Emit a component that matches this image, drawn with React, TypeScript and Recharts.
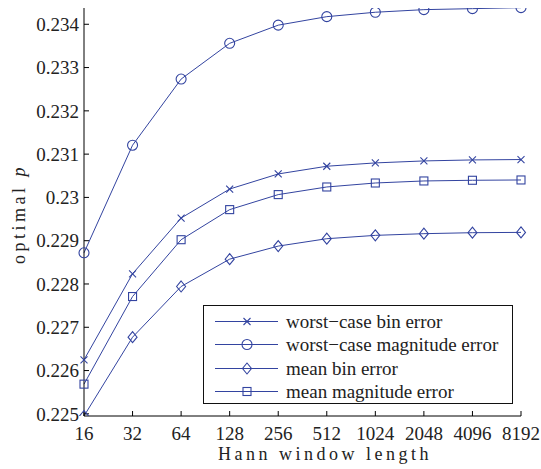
import React from 'react';
import { LineChart, Line, XAxis, YAxis } from 'recharts';

const windowLengths = ['16', '32', '64', '128', '256', '512', '1024', '2048', '4096', '8192'];
const worstCaseBin = [0.226247, 0.228236, 0.229523, 0.230194, 0.230542, 0.23072, 0.230797, 0.230843, 0.230866, 0.230875];
const worstCaseMagnitude = [0.22872, 0.231206, 0.232734, 0.23356, 0.23398, 0.234176, 0.234278, 0.234338, 0.234361, 0.234384];
const meanBin = [0.22495, 0.226771, 0.227942, 0.228574, 0.228875, 0.229046, 0.229123, 0.229162, 0.229185, 0.229192];
const meanMagnitude = [0.225686, 0.22771, 0.229023, 0.229718, 0.230065, 0.230241, 0.230333, 0.23038, 0.230396, 0.230403];
const yTicks = [0.225, 0.226, 0.227, 0.228, 0.229, 0.23, 0.231, 0.232, 0.233, 0.234];
const seriesNames = ['worst\u2212case bin error', 'worst\u2212case magnitude error', 'mean bin error', 'mean magnitude error'];
const seriesKeys = ['wcb', 'wcm', 'mb', 'mm'];
const seriesMarkers = ['x', 'circle', 'diamond', 'square'];
const xLabel = 'Hann window length';

const data = windowLengths.map((n, i) => ({
  n,
  wcb: worstCaseBin[i],
  wcm: worstCaseMagnitude[i],
  mb: meanBin[i],
  mm: meanMagnitude[i],
}));

const BLUE = '#3344a0';
const FONT = "'Liberation Serif', 'DejaVu Serif', serif";

function Marker({ kind, cx, cy }: { kind: string; cx: number; cy: number }) {
  if (cx == null || cy == null) return null;
  if (kind === 'x') {
    const s = 3.5;
    return (
      <g stroke={BLUE} strokeWidth={1.1}>
        <line x1={cx - s} y1={cy - s} x2={cx + s} y2={cy + s} />
        <line x1={cx - s} y1={cy + s} x2={cx + s} y2={cy - s} />
      </g>
    );
  }
  if (kind === 'circle') {
    return <circle cx={cx} cy={cy} r={5} fill="none" stroke={BLUE} strokeWidth={1.1} />;
  }
  if (kind === 'diamond') {
    return (
      <polygon
        points={`${cx},${cy - 5.5} ${cx + 4.5},${cy} ${cx},${cy + 5.5} ${cx - 4.5},${cy}`}
        fill="none"
        stroke={BLUE}
        strokeWidth={1.1}
      />
    );
  }
  return <rect x={cx - 4} y={cy - 4} width={8} height={8} fill="none" stroke={BLUE} strokeWidth={1.1} />;
}

const makeDot = (kind: string) => (props: any) => (
  <Marker key={`${kind}-${props.index}`} kind={kind} cx={props.cx} cy={props.cy} />
);

const fmtY = (v: number) => String(Number(v.toFixed(3)));

export default function App() {
  return (
    <div style={{ position: 'absolute', left: 0, top: 0, width: 541, height: 469, background: '#fff', fontFamily: FONT }}>
      <LineChart
        width={541}
        height={469}
        data={data}
        margin={{ top: 8, right: 20, bottom: 0, left: 0 }}
        style={{ fontFamily: FONT }}
      >
        <XAxis
          dataKey="n"
          xAxisId="bottom"
          orientation="bottom"
          height={53}
          tickSize={-5}
          tickMargin={16}
          axisLine={{ stroke: '#000', strokeWidth: 1 }}
          tickLine={{ stroke: '#000' }}
          tick={{ fill: '#222', fontSize: 19, fontFamily: FONT }}
          interval={0}
        />
        <XAxis
          dataKey="n"
          xAxisId="top"
          orientation="top"
          height={0}
          tickSize={-5}
          tickFormatter={() => ''}
          axisLine={{ stroke: '#000', strokeWidth: 1 }}
          tickLine={{ stroke: '#000' }}
          interval={0}
        />
        <YAxis
          yAxisId="left"
          orientation="left"
          width={84}
          domain={[0.22495, 0.234376]}
          ticks={yTicks}
          tickSize={-5}
          tickMargin={10}
          tickFormatter={fmtY}
          allowDataOverflow
          axisLine={{ stroke: '#000', strokeWidth: 1 }}
          tickLine={{ stroke: '#000' }}
          tick={{ fill: '#222', fontSize: 19, fontFamily: FONT }}
        />
        <YAxis
          yAxisId="right"
          orientation="right"
          width={0}
          domain={[0.22495, 0.234376]}
          ticks={yTicks}
          tickSize={-5}
          tickFormatter={() => ''}
          allowDataOverflow
          axisLine={{ stroke: '#000', strokeWidth: 1 }}
          tickLine={{ stroke: '#000' }}
        />
        <Line
          xAxisId="top"
          yAxisId="right"
          dataKey="wcb"
          stroke="none"
          dot={false}
          activeDot={false}
          legendType="none"
          isAnimationActive={false}
        />
        {seriesKeys.map((k, i) => (
          <Line
            key={k}
            xAxisId="bottom"
            yAxisId="left"
            type="linear"
            dataKey={k}
            name={seriesNames[i]}
            stroke={BLUE}
            strokeWidth={1}
            dot={makeDot(seriesMarkers[i])}
            activeDot={false}
            isAnimationActive={false}
          />
        ))}
      </LineChart>

      {/* axis titles */}
      <div
        style={{
          position: 'absolute',
          left: 218,
          top: 443,
          fontFamily: FONT,
          fontSize: 18,
          letterSpacing: 3.5,
          color: '#222',
          whiteSpace: 'nowrap',
          lineHeight: '22px',
        }}
      >
        {xLabel}
      </div>
      <div
        style={{
          position: 'absolute',
          left: 19,
          top: 214,
          transform: 'translate(-50%, -50%) rotate(-90deg)',
          fontFamily: FONT,
          fontSize: 18,
          letterSpacing: 3.5,
          color: '#222',
          whiteSpace: 'nowrap',
          lineHeight: '22px',
        }}
      >
        optimal <span style={{ fontStyle: 'italic' }}>p</span>
      </div>

      {/* legend */}
      <div
        style={{
          position: 'absolute',
          left: 203,
          top: 305,
          width: 310,
          height: 99,
          border: '1.5px solid #111',
          background: '#fff',
          boxSizing: 'border-box',
        }}
      >
        {seriesNames.map((name, i) => (
          <div
            key={name}
            style={{
              position: 'absolute',
              left: 0,
              top: 4 + i * 23.3,
              height: 23,
              width: 308,
              display: 'flex',
              alignItems: 'center',
            }}
          >
            <svg width={82} height={23} style={{ display: 'block' }}>
              <line x1={11} y1={11.5} x2={74} y2={11.5} stroke={BLUE} strokeWidth={1} />
              <Marker kind={seriesMarkers[i]} cx={43} cy={11.5} />
            </svg>
            <span
              style={{
                fontFamily: FONT,
                fontSize: 19,
                color: '#222',
                whiteSpace: 'nowrap',
                lineHeight: '23px',
              }}
            >
              {name}
            </span>
          </div>
        ))}
      </div>
    </div>
  );
}
